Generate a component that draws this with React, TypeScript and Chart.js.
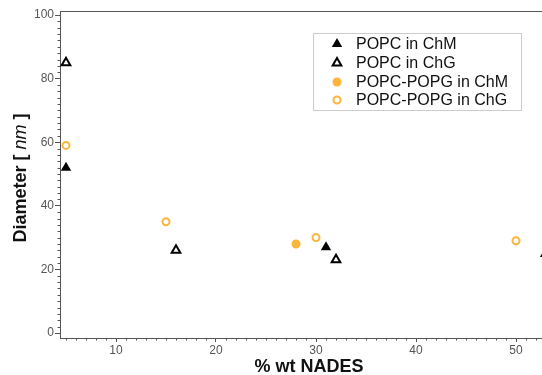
import React, { useEffect, useRef } from "react";
import { Chart, registerables } from "chart.js";

Chart.register(...registerables);

// ---- data ----
const seriesNames = ["POPC in ChM", "POPC in ChG", "POPC-POPG in ChM", "POPC-POPG in ChG"];
const popcChM_x = [5, 31];
const popcChM_y = [52, 27];
const popcChG_x = [5, 16, 32, 53];
const popcChG_y = [85, 26, 23, 25];
const pgChM_x = [28];
const pgChM_y = [28];
const pgChG_x = [5, 15, 30, 50];
const pgChG_y = [59, 35, 30, 29];

const xTicks = [10, 20, 30, 40, 50];
const yTicks = [0, 20, 40, 60, 80, 100];
const xTitle = "% wt NADES";
const yTitleParts = ["Diameter [ ", "nm", " ]"];

const ORANGE = "#FBB53A";
const AXIS = "#555555";
const FONT = "'Liberation Sans', Arial, Helvetica, sans-serif";

const pts = (xs: number[], ys: number[]) => xs.map((x, i) => ({ x, y: ys[i] }));

function drawMarker(ctx: CanvasRenderingContext2D, kind: number, x: number, y: number) {
  ctx.save();
  if (kind === 0 || kind === 1) {
    const r = kind === 0 ? 6 : 5;
    ctx.beginPath();
    let rad = 0;
    ctx.moveTo(x + Math.sin(rad) * r, y - Math.cos(rad) * r);
    rad += (2 * Math.PI) / 3;
    ctx.lineTo(x + Math.sin(rad) * r, y - Math.cos(rad) * r);
    rad += (2 * Math.PI) / 3;
    ctx.lineTo(x + Math.sin(rad) * r, y - Math.cos(rad) * r);
    ctx.closePath();
    if (kind === 0) {
      ctx.fillStyle = "#000";
      ctx.fill();
    } else {
      ctx.fillStyle = "#fff";
      ctx.fill();
      ctx.lineWidth = 2;
      ctx.strokeStyle = "#000";
      ctx.stroke();
    }
  } else {
    ctx.beginPath();
    if (kind === 2) {
      ctx.arc(x, y, 4.5, 0, Math.PI * 2);
      ctx.fillStyle = ORANGE;
      ctx.fill();
    } else {
      ctx.arc(x, y, 3.5, 0, Math.PI * 2);
      ctx.fillStyle = "#fff";
      ctx.fill();
      ctx.lineWidth = 2;
      ctx.strokeStyle = ORANGE;
      ctx.stroke();
    }
  }
  ctx.restore();
}

const decorPlugin = {
  id: "decor",
  afterDraw(chart: any) {
    const ctx: CanvasRenderingContext2D = chart.ctx;
    const { left, right, top, bottom } = chart.chartArea;
    const xs = chart.scales.x;
    const ys = chart.scales.y;
    ctx.save();
    // top frame line
    ctx.strokeStyle = AXIS;
    ctx.lineWidth = 1;
    ctx.beginPath();
    ctx.moveTo(left, top + 0.5);
    ctx.lineTo(right, top + 0.5);
    ctx.stroke();
    // minor ticks x
    ctx.beginPath();
    for (let v = Math.ceil(xs.min); v <= xs.max; v += 1) {
      if (v % 10 === 0) continue;
      const px = Math.round(xs.getPixelForValue(v)) + 0.5;
      ctx.moveTo(px, bottom);
      ctx.lineTo(px, bottom + 2.5);
    }
    // minor ticks y
    for (let v = 0; v <= ys.max; v += 2) {
      if (v % 20 === 0) continue;
      const py = Math.round(ys.getPixelForValue(v)) + 0.5;
      ctx.moveTo(left, py);
      ctx.lineTo(left - 2.5, py);
    }
    ctx.stroke();

    // x title
    ctx.fillStyle = "#111";
    ctx.font = `bold 18px ${FONT}`;
    ctx.textAlign = "center";
    ctx.textBaseline = "middle";
    ctx.fillText(xTitle, 309, 367);

    // y title (mixed fonts)
    ctx.save();
    ctx.translate(21, 178);
    ctx.rotate(-Math.PI / 2);
    const fonts = [`bold 18px ${FONT}`, `italic 18px ${FONT}`, `bold 18px ${FONT}`];
    let total = 0;
    const widths = yTitleParts.map((t, i) => {
      ctx.font = fonts[i];
      const w = ctx.measureText(t).width;
      total += w;
      return w;
    });
    let cx = -total / 2;
    ctx.textAlign = "left";
    yTitleParts.forEach((t, i) => {
      ctx.font = fonts[i];
      ctx.fillText(t, cx, 0);
      cx += widths[i];
    });
    ctx.restore();

    // legend
    ctx.strokeStyle = "#cccccc";
    ctx.lineWidth = 1;
    ctx.fillStyle = "#fff";
    ctx.fillRect(313.5, 33.5, 208, 77);
    ctx.strokeRect(313.5, 33.5, 208, 77);
    const rowsY = [44, 63, 82, 100];
    ctx.font = `16px ${FONT}`;
    ctx.textAlign = "left";
    ctx.textBaseline = "middle";
    seriesNames.forEach((name, i) => {
      drawMarker(ctx, i, 337, rowsY[i]);
      ctx.fillStyle = "#111";
      ctx.fillText(name, 356, rowsY[i] + 1);
    });
    ctx.restore();
  },
};

export default function App() {
  const ref = useRef<HTMLCanvasElement | null>(null);
  useEffect(() => {
    if (!ref.current) return;
    Chart.defaults.font.family = FONT;
    const tickFont = { size: 12, family: FONT };
    const chart = new Chart(ref.current, {
      type: "scatter",
      data: {
        datasets: [
          {
            label: seriesNames[0],
            data: pts(popcChM_x, popcChM_y),
            pointStyle: "triangle",
            pointRadius: 6,
            backgroundColor: "#000",
            borderColor: "#000",
            borderWidth: 0,
            clip: false as any,
          },
          {
            label: seriesNames[1],
            data: pts(popcChG_x, popcChG_y),
            pointStyle: "triangle",
            pointRadius: 5,
            backgroundColor: "#fff",
            borderColor: "#000",
            borderWidth: 2,
            clip: false as any,
          },
          {
            label: seriesNames[2],
            data: pts(pgChM_x, pgChM_y),
            pointStyle: "circle",
            pointRadius: 4.5,
            backgroundColor: ORANGE,
            borderColor: ORANGE,
            borderWidth: 0,
            clip: false as any,
          },
          {
            label: seriesNames[3],
            data: pts(pgChG_x, pgChG_y),
            pointStyle: "circle",
            pointRadius: 3.5,
            backgroundColor: "#fff",
            borderColor: ORANGE,
            borderWidth: 2,
            clip: false as any,
          },
        ],
      },
      options: {
        responsive: false,
        animation: false,
        events: [],
        layout: { autoPadding: false, padding: { top: 11, right: 0, left: 0, bottom: 0 } },
        plugins: {
          legend: { display: false },
          tooltip: { enabled: false },
        },
        scales: {
          x: {
            type: "linear",
            min: 4.4,
            max: 52.6,
            afterBuildTicks: (s: any) => {
              s.ticks = xTicks.map((v) => ({ value: v }));
            },
            afterFit: (s: any) => {
              s.height = 37;
              s.paddingLeft = 0;
              s.paddingRight = 0;
            },
            grid: {
              drawOnChartArea: false,
              drawTicks: true,
              tickLength: 4,
              tickColor: AXIS,
            },
            border: { color: AXIS, width: 1 },
            ticks: { color: "#555", font: tickFont, padding: 1, maxRotation: 0 },
          },
          y: {
            type: "linear",
            min: -1.57,
            max: 101.26,
            afterBuildTicks: (s: any) => {
              s.ticks = yTicks.map((v) => ({ value: v }));
            },
            afterFit: (s: any) => {
              s.width = 60;
              s.paddingTop = 0;
              s.paddingBottom = 0;
            },
            grid: {
              drawOnChartArea: false,
              drawTicks: true,
              tickLength: 5,
              tickColor: AXIS,
            },
            border: { color: AXIS, width: 1 },
            ticks: { color: "#555", font: tickFont, padding: 1 },
          },
        },
      },
      plugins: [decorPlugin],
    });
    return () => chart.destroy();
  }, []);
  return (
    <div style={{ position: "fixed", left: 0, top: 0, width: 542, height: 375, background: "#fff" }}>
      <canvas ref={ref} width={542} height={375} style={{ display: "block" }} />
    </div>
  );
}
